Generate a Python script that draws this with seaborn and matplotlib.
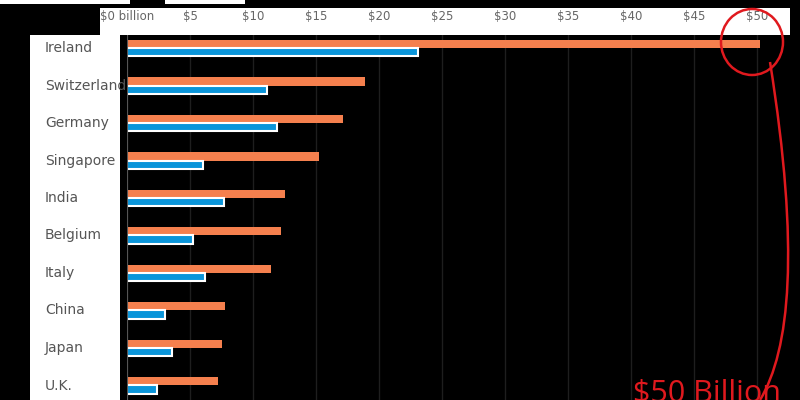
import pandas as pd
import seaborn as sns
from matplotlib import pyplot as plt
from matplotlib.patches import Rectangle, Ellipse, PathPatch
from matplotlib.path import Path

countries = ['Ireland', 'Switzerland', 'Germany', 'Singapore', 'India',
             'Belgium', 'Italy', 'China', 'Japan', 'U.K.']
orange_vals = [50.2, 18.9, 17.1, 15.2, 12.5, 12.2, 11.4, 7.8, 7.5, 7.2]
blue_vals = [23.1, 11.1, 11.9, 6.0, 7.7, 5.2, 6.2, 3.0, 3.6, 2.4]
ticks = [0, 5, 10, 15, 20, 25, 30, 35, 40, 45, 50]
tick_labels = ['$0 billion'] + [f'${t}' for t in ticks[1:]]

df = pd.DataFrame({
    'country': countries * 2,
    'value': orange_vals + blue_vals,
    'series': ['a'] * len(countries) + ['b'] * len(countries),
})

W, H = 800, 400
fig = plt.figure(figsize=(8, 4), dpi=100, facecolor='black')

# white panels behind the tick labels and the country names
for (x0, y0, w, h) in [(100, 8, 690, 27), (30, 35, 90, 365), (0, 0, 130, 4), (165, 0, 80, 4)]:
    fig.patches.append(Rectangle((x0 / W, 1 - (y0 + h) / H), w / W, h / H, transform=fig.transFigure,
                                 facecolor='white', edgecolor='none', zorder=-5))

ax = fig.add_axes([127 / W, 0, (790 - 127) / W, 1 - 35 / H])
ax.set_facecolor('black')
sns.barplot(data=df, y='country', x='value', hue='series', orient='h',
            palette=['#f5804e', '#0a95da'], saturation=1, width=0.44, dodge=True,
            legend=False, ax=ax, zorder=3)
for p in ax.patches[len(countries):]:
    p.set_edgecolor('white')
    p.set_linewidth(1.5)

ax.set_xlim(0, 52.6)
ax.set_ylim(9.39, -0.35)
ax.set_xticks(ticks)
ax.xaxis.tick_top()
ax.set_xticklabels(tick_labels, color='#666666', fontsize=8.5, family='Liberation Sans Narrow')
ax.tick_params(axis='x', length=0, pad=9)
ax.set_yticks([])
ax.set_xlabel('')
ax.set_ylabel('')
for s in ax.spines.values():
    s.set_visible(False)
ax.grid(axis='x', color='#1e1e1e', linewidth=1, zorder=0)
ax.axvline(0, color='#555555', linewidth=1.5, zorder=4)

for i, c in enumerate(countries):
    y_px = 48 + i * 37.5
    fig.text(45 / W, 1 - y_px / H, c, color='#555555', fontsize=10, va='center', ha='left')

# red annotation
fig.patches.append(Ellipse((752 / W, 1 - 42 / H), 62 / W, 66 / H, transform=fig.transFigure,
                           facecolor='none', edgecolor='#e0191e', linewidth=1.8, zorder=10))
verts = [(770 / W, 1 - 62 / H), (800 / W, 1 - 250 / H), (790 / W, 1 - 350 / H), (760 / W, 1 - 400 / H)]
path = Path(verts, [Path.MOVETO, Path.CURVE4, Path.CURVE4, Path.CURVE4])
fig.patches.append(PathPatch(path, transform=fig.transFigure, facecolor='none',
                             edgecolor='#e0191e', linewidth=1.8, zorder=10))
fig.text(633 / W, 1 - 378 / H, '$50 Billion', color='#e0191e', fontsize=22, va='top',
         ha='left', family='Open Sans')

fig.savefig('out.png', dpi=100, facecolor='black')
